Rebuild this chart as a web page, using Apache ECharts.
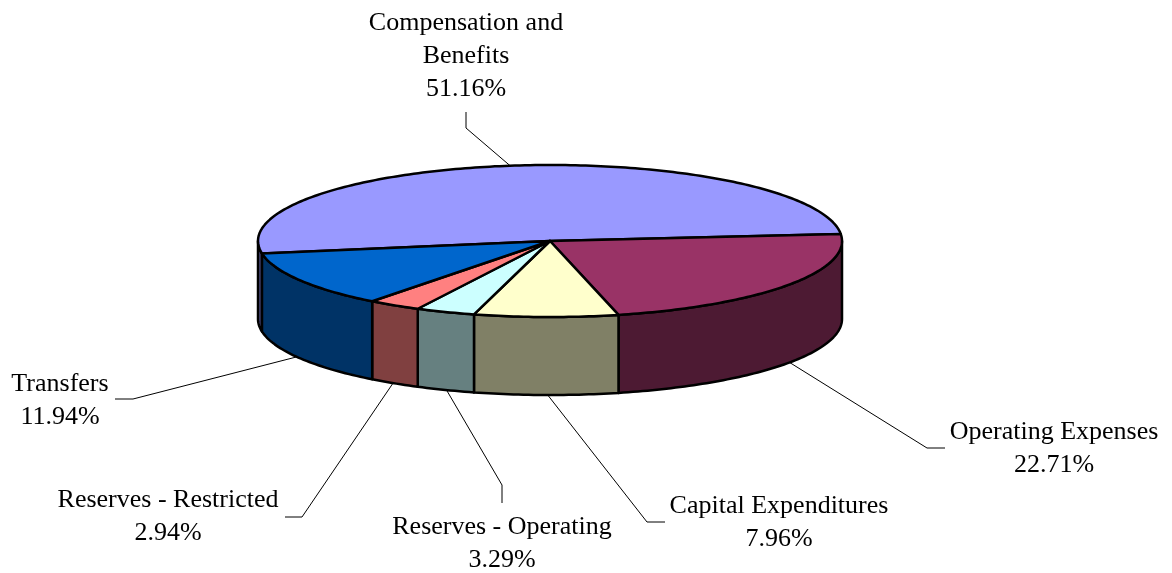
<!DOCTYPE html>
<html>
<head>
<meta charset="utf-8">
<script src="https://cdn.jsdelivr.net/npm/echarts@6/dist/echarts.min.js"></script>
<style>
html, body { margin: 0; padding: 0; background: #fff; }
#chart { width: 1172px; height: 573px; }
</style>
</head>
<body>
<div id="chart"></div>
<script>
// data
var categories = ['Compensation and\nBenefits', 'Operating Expenses', 'Capital Expenditures',
    'Reserves - Operating', 'Reserves - Restricted', 'Transfers'];
var percents = [51.16, 22.71, 7.96, 3.29, 2.94, 11.94];
var topColors = ['#9999FF', '#993366', '#FFFFCC', '#CCFFFF', '#FF8080', '#0066CC'];
var sideColors = ['#4D4D80', '#4D1A33', '#808066', '#668080', '#804040', '#003366'];

// layout of the tilted pie and its labels
var pie = { cx: 550, cy: 241, rx: 292, ry: 76, depth: 78, startAngle: 189.5 };
var labelPos = [[466, 56], [1054, 449], [779, 523], [502, 544], [168, 517], [60, 401]];
var leaderBends = [
    [[466, 128], [466, 112]],
    [[927, 448], [945, 448]],
    [[647, 522], [665, 522]],
    [[502, 485], [502, 503]],
    [[302, 517], [285, 517]],
    [[133, 399], [115, 399]]
];

var slices = [];
var a = pie.startAngle;
percents.forEach(function (p) {
    var span = p / 100 * 360;
    slices.push({ s: a, e: a - span });
    a -= span;
});

function pt(deg, dy) {
    var r = deg * Math.PI / 180;
    return [pie.cx + pie.rx * Math.cos(r), pie.cy - pie.ry * Math.sin(r) + (dy || 0)];
}
function arc(from, to, dy) {
    var pts = [];
    var n = Math.max(2, Math.ceil(Math.abs(from - to)));
    for (var k = 0; k <= n; k++) {
        pts.push(pt(from + (to - from) * k / n, dy));
    }
    return pts;
}
// parts of a slice that face the viewer (lower half of the ellipse)
function frontParts(s, e) {
    var parts = [];
    for (var k = -1; k <= 1; k++) {
        var lo = Math.max(e, -180 + 360 * k), hi = Math.min(s, 360 * k);
        if (hi > lo) parts.push([hi, lo]);
    }
    return parts;
}

function renderItem(params, api) {
    var i = params.dataIndex;
    var sl = slices[i];
    var children = [];
    var mid = (sl.s + sl.e) / 2;
    var sinm = Math.sin(mid * Math.PI / 180);
    var start = sinm < 0 ? pt(mid, pie.depth - 2) : pt(mid, 2);
    children.push({
        type: 'polyline',
        z2: 0,
        shape: { points: [start].concat(leaderBends[i]) },
        style: { stroke: '#000', lineWidth: 1, fill: null }
    });
    frontParts(sl.s, sl.e).forEach(function (pr) {
        children.push({
            type: 'polygon',
            z2: 1,
            shape: { points: arc(pr[0], pr[1], 0).concat(arc(pr[1], pr[0], pie.depth)) },
            style: { fill: sideColors[i], stroke: '#000', lineWidth: 2.5, lineJoin: 'round' }
        });
    });
    children.push({
        type: 'polygon',
        z2: 2,
        shape: { points: [[pie.cx, pie.cy]].concat(arc(sl.s, sl.e, 0)) },
        style: { fill: topColors[i], stroke: '#000', lineWidth: 2.5, lineJoin: 'round' }
    });
    children.push({
        type: 'text',
        z2: 3,
        x: labelPos[i][0],
        y: labelPos[i][1],
        style: {
            text: categories[i] + '\n' + percents[i].toFixed(2) + '%',
            fill: '#000',
            fontSize: 26,
            fontFamily: '"Liberation Serif", "Times New Roman", serif',
            lineHeight: 33,
            textAlign: 'center',
            textVerticalAlign: 'middle',
            align: 'center',
            verticalAlign: 'middle'
        }
    });
    return { type: 'group', children: children };
}

var chart = echarts.init(document.getElementById('chart'));
chart.setOption({
    animation: false,
    series: [{
        type: 'custom',
        coordinateSystem: 'none',
        renderItem: renderItem,
        data: percents
    }]
});
</script>
</body>
</html>
